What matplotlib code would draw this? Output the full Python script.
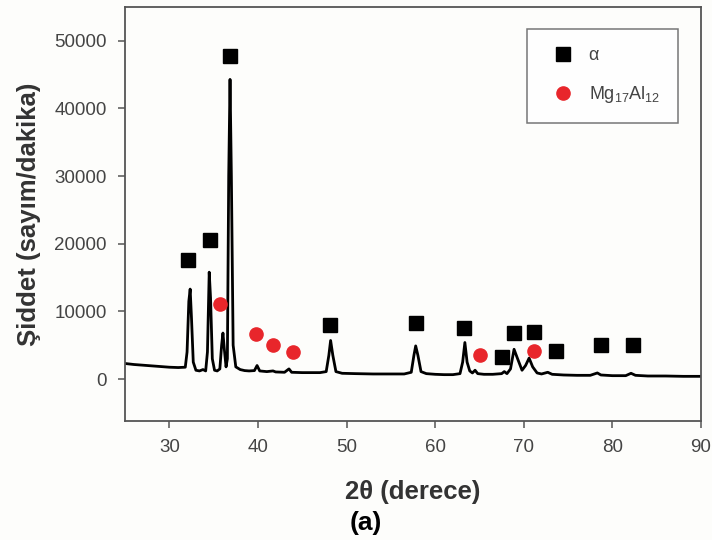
import matplotlib.pyplot as plt
import numpy as np

plt.rcParams["font.family"] = ["Liberation Sans", "DejaVu Sans"]
plt.rcParams["mathtext.default"] = "regular"

# XRD pattern, points
TWO_THETA = [
    25.0, 26.0, 27.0, 28.0, 29.0, 30.0, 31.0, 31.8, 32.0, 32.2, 32.35, 32.5,
    32.7, 33.0, 33.4, 33.8, 34.1, 34.3, 34.5, 34.65, 34.85, 35.1, 35.4, 35.7,
    35.9, 36.05, 36.2, 36.4, 36.55, 36.7, 36.85, 37.0, 37.2, 37.5, 38.0, 38.5,
    39.0, 39.6, 39.9, 40.2, 41.0, 41.7, 42.0, 43.0, 43.5, 43.8, 45.0, 46.0,
    47.0, 47.7, 48.0, 48.2, 48.45, 48.8, 49.5, 51.0, 53.0, 55.0, 56.5, 57.3,
    57.6, 57.8, 58.05, 58.4, 59.0, 60.0, 61.0, 62.0, 62.8, 63.1, 63.35, 63.6,
    63.9, 64.2, 64.5, 64.8, 65.5, 66.5, 67.5, 67.8, 68.1, 68.5, 68.9, 69.3,
    69.8, 70.2, 70.6, 71.0, 71.5, 72.0, 72.7, 73.2, 74.5, 76.0, 77.5, 78.3,
    78.7, 80.0, 81.5, 82.1, 82.6, 84.0, 86.0, 88.0, 90.0,
]
INTENSITY = [
    2300, 2150, 2050, 1950, 1850, 1750, 1700, 1750, 4000, 11500, 13300, 9000,
    2500, 1300, 1200, 1400, 1200, 4000, 15800, 12000, 3000, 1300, 1200, 1500,
    5000, 6800, 4500, 1800, 3000, 30000, 44300, 30000, 5000, 1800, 1400, 1250,
    1200, 1250, 2000, 1200, 1100, 1200, 1050, 1000, 1500, 1000, 950, 950,
    950, 1100, 3500, 5700, 3500, 1100, 850, 800, 750, 750, 750, 1000,
    3500, 4900, 3500, 1100, 800, 700, 650, 650, 800, 2500, 5400, 2500,
    1200, 900, 1300, 800, 700, 700, 800, 1100, 800, 1500, 4400, 3000,
    1300, 2000, 3100, 1800, 900, 750, 1000, 700, 600, 550, 550, 900,
    600, 500, 500, 850, 550, 450, 450, 400, 400,
]

# phase markers
ALPHA_X = [32.1, 34.6, 36.9, 48.1, 57.8, 63.3, 67.5, 68.9, 71.2, 73.6, 78.7, 82.3]
ALPHA_Y = [17600, 20600, 47800, 8000, 8300, 7600, 3300, 6800, 6900, 4100, 5000, 5000]
MGAL_X = [35.7, 39.8, 41.7, 44.0, 65.1, 71.2]
MGAL_Y = [11100, 6700, 5000, 4000, 3600, 4100]

GRAY = "#555555"

fig = plt.figure(figsize=(7.12, 5.4), dpi=100, facecolor="#fdfdfb")
ax = fig.add_axes([0.1756, 0.2204, 0.809, 0.7666])
ax.set_facecolor("#fdfdfb")

ax.plot(TWO_THETA, INTENSITY, color="black", lw=2.0, zorder=2)
ax.plot(ALPHA_X, ALPHA_Y, ls="none", marker="s", ms=10, color="black",
        label="α", zorder=3)
ax.plot(MGAL_X, MGAL_Y, ls="none", marker="o", ms=9.5, color="#e8262b",
        label=r"Mg$_{17}$Al$_{12}$", zorder=3)

ax.set_xlim(25, 90)
ax.set_ylim(-6200, 55000)
ax.set_xticks(np.arange(30, 91, 10))
ax.set_yticks(np.arange(0, 50001, 10000))

for sp in ax.spines.values():
    sp.set_color(GRAY)
    sp.set_linewidth(1.3)
ax.tick_params(direction="out", length=5, width=1.1, color=GRAY,
               labelsize=13.5, labelcolor="#444444", pad=8)

ax.set_ylabel("Şiddet (sayım/dakika)", fontsize=18.5, fontweight="bold",
              color="#333333", labelpad=10)
ax.set_xlabel("2θ (derece)", fontsize=18.5, fontweight="bold",
              color="#333333", labelpad=17)
fig.text(0.514, 0.031, "(a)", fontsize=19, fontweight="bold",
         color="black", ha="center", va="center")

leg = ax.legend(loc="upper right", bbox_to_anchor=(0.960, 0.947), fontsize=13,
                frameon=True, fancybox=False, borderpad=1.0, handlelength=2.0,
                labelspacing=1.1, handletextpad=0.4, borderaxespad=0)
leg.get_frame().set_edgecolor(GRAY)
leg.get_frame().set_linewidth(1.1)
for t in leg.get_texts():
    t.set_color("#444444")

fig.savefig("out.png", dpi=100, facecolor=fig.get_facecolor())
